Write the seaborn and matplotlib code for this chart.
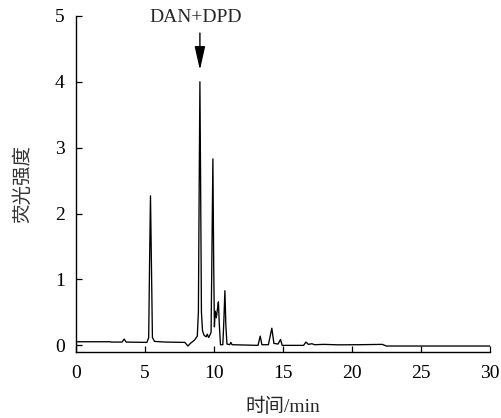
import matplotlib
matplotlib.use("Agg")
import matplotlib.pyplot as plt
import pandas as pd
import seaborn as sns

# Chromatogram trace: retention time (min) and fluorescence intensity
time_min = [
    0.0, 2.5, 2.6, 3.35, 3.5, 3.65, 5.15, 5.28, 5.34, 5.41, 5.48, 5.55, 5.7,
    6.5, 7.9, 8.0, 8.12, 8.3, 8.6, 8.8, 8.88, 8.94, 8.99, 9.04, 9.1, 9.18,
    9.3, 9.45, 9.52, 9.62, 9.72, 9.8, 9.86, 9.93, 9.99, 10.04, 10.1, 10.18,
    10.26, 10.33, 10.4, 10.48, 10.65, 10.72, 10.8, 10.87, 10.95, 11.15,
    11.23, 11.32, 13.2, 13.36, 13.48, 13.95, 14.2, 14.35, 14.65, 14.83,
    14.95, 16.5, 16.67, 16.85, 17.1, 17.3, 18.0, 19.0, 20.5, 22.2, 22.5,
    30.0,
]
intensity = [
    0.055, 0.055, 0.05, 0.05, 0.095, 0.05, 0.045, 0.12, 1.2, 2.27, 1.2,
    0.12, 0.06, 0.05, 0.045, 0.02, -0.01, 0.03, 0.08, 0.14, 0.5, 2.5,
    4.00, 2.5, 0.5, 0.22, 0.15, 0.13, 0.17, 0.12, 0.16, 0.2, 1.4, 2.83,
    1.2, 0.28, 0.52, 0.42, 0.55, 0.66, 0.3, 0.01, 0.01, 0.35, 0.83, 0.3,
    0.02, 0.01, 0.045, 0.01, 0.0, 0.14, 0.01, 0.01, 0.26, 0.03, 0.02,
    0.09, 0.0, 0.0, 0.05, 0.015, 0.025, 0.01, 0.015, 0.008, 0.01, 0.015,
    -0.01, -0.01,
]

x_ticks = [0, 5, 10, 15, 20, 25, 30]
y_ticks = [0, 1, 2, 3, 4, 5]
peak_label = "DAN+DPD"
peak_time = 8.99

sns.set_style("ticks")
plt.rcParams["font.family"] = ["Liberation Serif", "Noto Sans CJK SC"]
plt.rcParams["xtick.direction"] = "in"
plt.rcParams["ytick.direction"] = "in"

df = pd.DataFrame({"time": time_min, "signal": intensity})

fig = plt.figure(figsize=(5.02, 4.18), dpi=100)
ax = fig.add_axes([0.151, 0.158, 0.825, 0.804])

sns.lineplot(data=df, x="time", y="signal", ax=ax, color="black",
             linewidth=0.95, sort=False)

ax.set_xlim(0, 30)
ax.set_ylim(-0.1, 5)
ax.set_xticks(x_ticks)
ax.set_yticks(y_ticks)
ax.tick_params(axis="both", labelsize=14, length=4.5, width=0.9,
               colors="black")
ax.tick_params(axis="x", pad=9.5)
ax.tick_params(axis="y", pad=8)
for side in ("left", "bottom"):
    ax.spines[side].set_linewidth(1.0)
    ax.spines[side].set_color("black")
sns.despine(ax=ax, top=True, right=True)

ax.set_xlabel("时间/min", fontsize=14, labelpad=11)
ax.set_ylabel("荧光强度", fontsize=14, labelpad=16, color="#333333")

ax.annotate("", xy=(peak_time, 4.18), xytext=(peak_time, 4.74),
            arrowprops=dict(arrowstyle="-|>,head_length=0.8,head_width=0.18",
                            color="black", lw=1.0, mutation_scale=18,
                            shrinkA=0, shrinkB=0))
ax.text(8.7, 4.98, peak_label, ha="center", va="center", fontsize=14)

fig.savefig("out.png", dpi=100)
